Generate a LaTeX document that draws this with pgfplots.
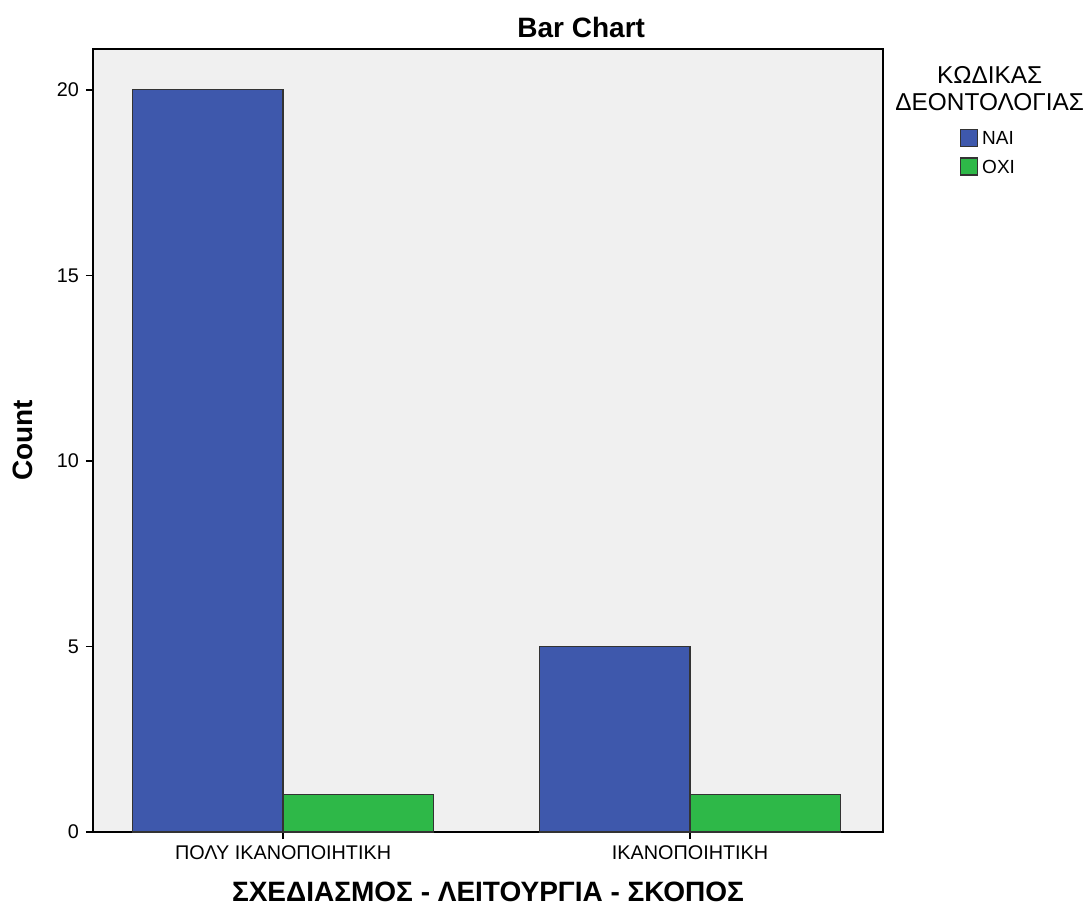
\documentclass[border=0pt]{standalone}
\usepackage{fontspec}
\setmainfont{Liberation Sans}
\usepackage{pgfplots}
\pgfplotsset{compat=1.18}
\definecolor{bgray}{HTML}{F0F0F0}
\definecolor{nai}{HTML}{3E58AC}
\definecolor{oxi}{HTML}{2EB848}
\pgfplotsset{
  /pgfplots/ybar legend/.style={
    /pgfplots/legend image code/.code={%
      \draw[##1,/tikz/.cd,yshift=-0.35em]
      (0cm,0cm) rectangle (8.5pt,8.5pt);},
  },
}
\begin{document}
\begin{tikzpicture}
  \begin{axis}[
    scale only axis,
    width=395pt, height=391.5pt,
    ybar=0pt, bar width=0.37,
    xmin=-0.467, xmax=1.474,
    ymin=0, ymax=21.1,
    xtick={0,1},
    xticklabels={ΠΟΛΥ ΙΚΑΝΟΠΟΙΗΤΙΚΗ, ΙΚΑΝΟΠΟΙΗΤΙΚΗ},
    ytick={0,5,10,15,20},
    tick align=outside,
    tick pos=left,
    major tick length=3.5pt,
    tick style={black, line width=0.8pt},
    axis background/.style={fill=bgray},
    axis line style={black, line width=0.8pt},
    ticklabel style={font=\fontsize{9.9}{11}\selectfont},
    /pgf/number format/assume math mode=true,
    xlabel={\textbf{ΣΧΕΔΙΑΣΜΟΣ - ΛΕΙΤΟΥΡΓΙΑ - ΣΚΟΠΟΣ}},
    xlabel style={font=\fontsize{14}{16}\selectfont, yshift=-4pt},
    ylabel={\textbf{Count}},
    ylabel style={font=\fontsize{14}{16}\selectfont, yshift=5pt},
    legend style={at={(rel axis cs:1.097,0.9)}, anchor=north west,
      draw=none, fill=none, font=\fontsize{9.5}{11}\selectfont,
      row sep=2pt, inner sep=0pt},
    legend cell align=left,
    clip=false,
  ]
    \addplot[fill=nai, draw=black!80, line width=0.6pt] coordinates {(0,20) (1,5)};
    \addlegendentry{ΝΑΙ}
    \addplot[fill=oxi, draw=black!80, line width=0.6pt] coordinates {(0,1) (1,1)};
    \addlegendentry{ΟΧΙ}
    \node[font=\fontsize{14}{16}\selectfont\bfseries] at (rel axis cs:0.618,1.028) {Bar Chart};
    \node[font=\fontsize{12.2}{13.5}\selectfont, align=center] at (rel axis cs:1.135,0.95) {ΚΩΔΙΚΑΣ\\ΔΕΟΝΤΟΛΟΓΙΑΣ};
  \end{axis}
  \pgfresetboundingbox
  \path ([shift={(-46.5pt,-42pt)}]current axis.south west) rectangle ([shift={(102.5pt,24.5pt)}]current axis.north east);
\end{tikzpicture}
\end{document}
